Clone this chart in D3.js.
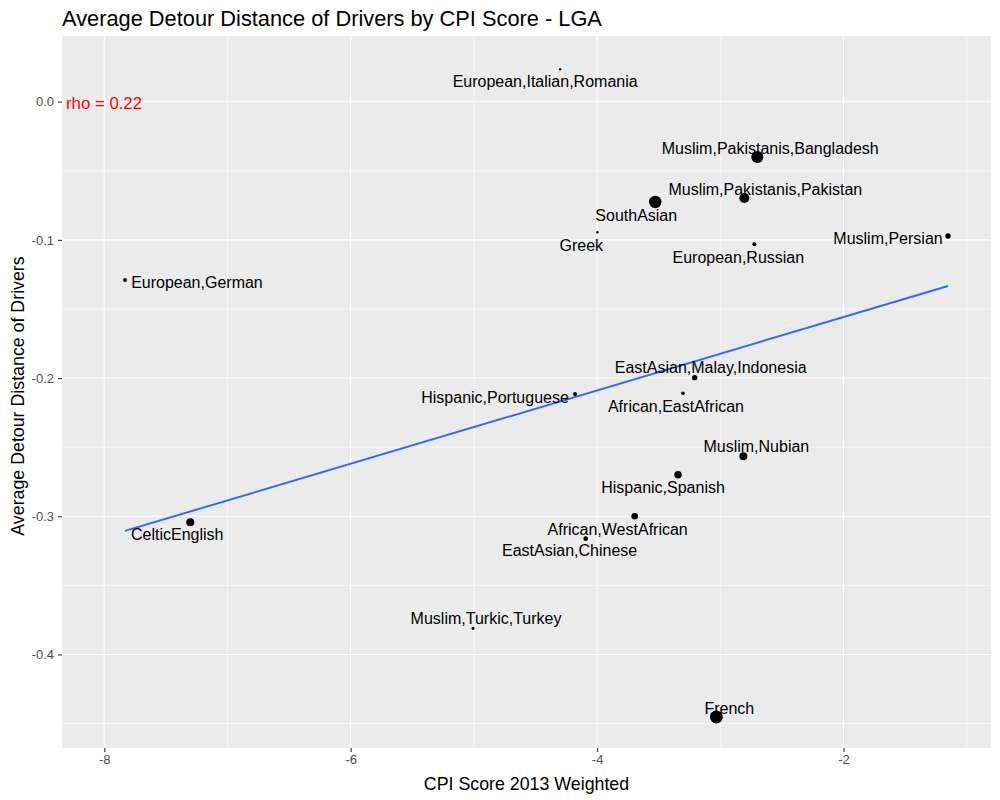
<!DOCTYPE html>
<html lang="en">
<head>
<meta charset="UTF-8">
<title>Average Detour Distance of Drivers by CPI Score - LGA</title>
<script src="https://d3js.org/d3.v7.min.js"></script>
<style>
  body { margin: 0; background: #fff; }
  svg text { font-family: "Liberation Sans", Arial, sans-serif; }
</style>
</head>
<body>
<svg class="chart"></svg>
<script>
// data
const groups = ["European,Italian,Romania", "Muslim,Pakistanis,Bangladesh", "Muslim,Pakistanis,Pakistan",
  "SouthAsian", "Greek", "European,Russian", "Muslim,Persian", "European,German",
  "EastAsian,Malay,Indonesia", "Hispanic,Portuguese", "African,EastAfrican", "Muslim,Nubian",
  "Hispanic,Spanish", "African,WestAfrican", "EastAsian,Chinese", "CelticEnglish",
  "Muslim,Turkic,Turkey", "French"]
const cpiScore = [-4.30, -2.70, -2.805, -3.528, -3.998, -2.724, -1.152, -7.832,
  -3.208, -4.179, -3.303, -2.813, -3.343, -3.695, -4.093, -7.302, -5.007, -3.032]
const detour = [0.0234, -0.040, -0.0697, -0.0726, -0.0945, -0.1032, -0.0972, -0.129,
  -0.1997, -0.2115, -0.211, -0.2566, -0.270, -0.300, -0.3162, -0.3043, -0.3813, -0.4452]
const weight = [14, 360, 250, 385, 14, 40, 73, 40, 73, 40, 32, 160, 137, 109, 53, 160, 22, 420]
const xTicks = [-8, -6, -4, -2]
const yTicks = [0.0, -0.1, -0.2, -0.3, -0.4]
const xMinor = [-7, -5, -3, -1]
const yMinor = [-0.05, -0.15, -0.25, -0.35, -0.45]
const fitX = [-7.832, -1.152]
const fitY = [-0.3106, -0.1334]
const rhoText = "rho = 0.22"

// label offsets from each point (px), like the repelled labels
const labelNudge = [[-15, 12], [13, -9], [21, -9], [-19, 13], [-16, 13], [-16, 13], [-60, 2], [72, 2],
  [16, -10], [-80, 3], [-7, 13], [13, -10], [-15, 13], [-17, 13], [-16, 12], [-13, 12], [13, -10], [13, -9]]

const W = 1000, H = 800
const margin = { top: 36, right: 9, bottom: 52, left: 62 }
const pw = W - margin.left - margin.right
const ph = H - margin.top - margin.bottom

const svg = d3.select(".chart").attr("width", W).attr("height", H)
  .attr("viewBox", `0 0 ${W} ${H}`)

const x = d3.scaleLinear().domain([-8.343, -0.803]).range([0, pw])
const y = d3.scaleLinear().domain([-0.4677, 0.0475]).range([ph, 0])
const r = d3.scaleSqrt().domain([0, 420]).range([0, 6.5])

const g = svg.append("g").attr("transform", `translate(${margin.left},${margin.top})`)

g.append("rect").attr("width", pw).attr("height", ph).attr("fill", "#EBEBEB")

// grid
g.selectAll(".xminor").data(xMinor).join("line")
  .attr("x1", d => x(d)).attr("x2", d => x(d)).attr("y1", 0).attr("y2", ph)
  .attr("stroke", "#fff").attr("stroke-width", 0.55)
g.selectAll(".yminor").data(yMinor).join("line")
  .attr("y1", d => y(d)).attr("y2", d => y(d)).attr("x1", 0).attr("x2", pw)
  .attr("stroke", "#fff").attr("stroke-width", 0.55)
g.selectAll(".xmajor").data(xTicks).join("line")
  .attr("x1", d => x(d)).attr("x2", d => x(d)).attr("y1", 0).attr("y2", ph)
  .attr("stroke", "#fff").attr("stroke-width", 1.1)
g.selectAll(".ymajor").data(yTicks).join("line")
  .attr("y1", d => y(d)).attr("y2", d => y(d)).attr("x1", 0).attr("x2", pw)
  .attr("stroke", "#fff").attr("stroke-width", 1.1)

// axes
const xAxis = g.append("g").attr("transform", `translate(0,${ph})`)
  .call(d3.axisBottom(x).tickValues(xTicks).tickSize(4).tickPadding(3))
const yAxis = g.append("g")
  .call(d3.axisLeft(y).tickValues(yTicks).tickSize(4).tickPadding(4))
for (const a of [xAxis, yAxis]) {
  a.select(".domain").remove()
  a.selectAll(".tick line").attr("stroke", "#333").attr("stroke-width", 1.1)
  a.selectAll(".tick text").attr("fill", "#4D4D4D").style("font-size", "13px")
    .style("font-family", "'Liberation Sans', Arial, sans-serif")
}
// plain hyphen minus like R
xAxis.selectAll(".tick text").text(d => String(d))
yAxis.selectAll(".tick text").text(d => d.toFixed(1))

// fit line
const fit = fitX.map((v, i) => [v, fitY[i]])
g.append("path").datum(fit)
  .attr("d", d3.line().x(d => x(d[0])).y(d => y(d[1])))
  .attr("fill", "none").attr("stroke", "#3366FF").attr("stroke-width", 1.9)

// points
const pts = groups.map((name, i) => ({ name, cx: cpiScore[i], cy: detour[i], w: weight[i], nudge: labelNudge[i] }))
g.selectAll(".pt").data(pts).join("circle")
  .attr("cx", d => x(d.cx)).attr("cy", d => y(d.cy)).attr("r", d => r(d.w))
  .attr("fill", "#000")

g.selectAll(".lbl").data(pts).join("text")
  .attr("x", d => x(d.cx) + d.nudge[0]).attr("y", d => y(d.cy) + d.nudge[1])
  .attr("dy", "0.35em").attr("text-anchor", "middle")
  .style("font-size", "16px").attr("fill", "#000")
  .text(d => d.name)

g.append("text").attr("x", 4).attr("y", y(0) + 1).attr("dy", "0.35em")
  .style("font-size", "16.8px").attr("fill", "#FF0000").text(rhoText)

// titles
svg.append("text").attr("x", margin.left).attr("y", 26)
  .style("font-size", "21.8px").attr("fill", "#000")
  .text("Average Detour Distance of Drivers by CPI Score - LGA")
svg.append("text").attr("x", margin.left + pw / 2).attr("y", 790)
  .attr("text-anchor", "middle").style("font-size", "17.8px").attr("fill", "#000")
  .text("CPI Score 2013 Weighted")
svg.append("text").attr("transform", `translate(24,${margin.top + ph / 2 + 4}) rotate(-90)`)
  .attr("text-anchor", "middle").style("font-size", "17.8px").attr("fill", "#000")
  .text("Average Detour Distance of Drivers")
</script>
</body>
</html>
